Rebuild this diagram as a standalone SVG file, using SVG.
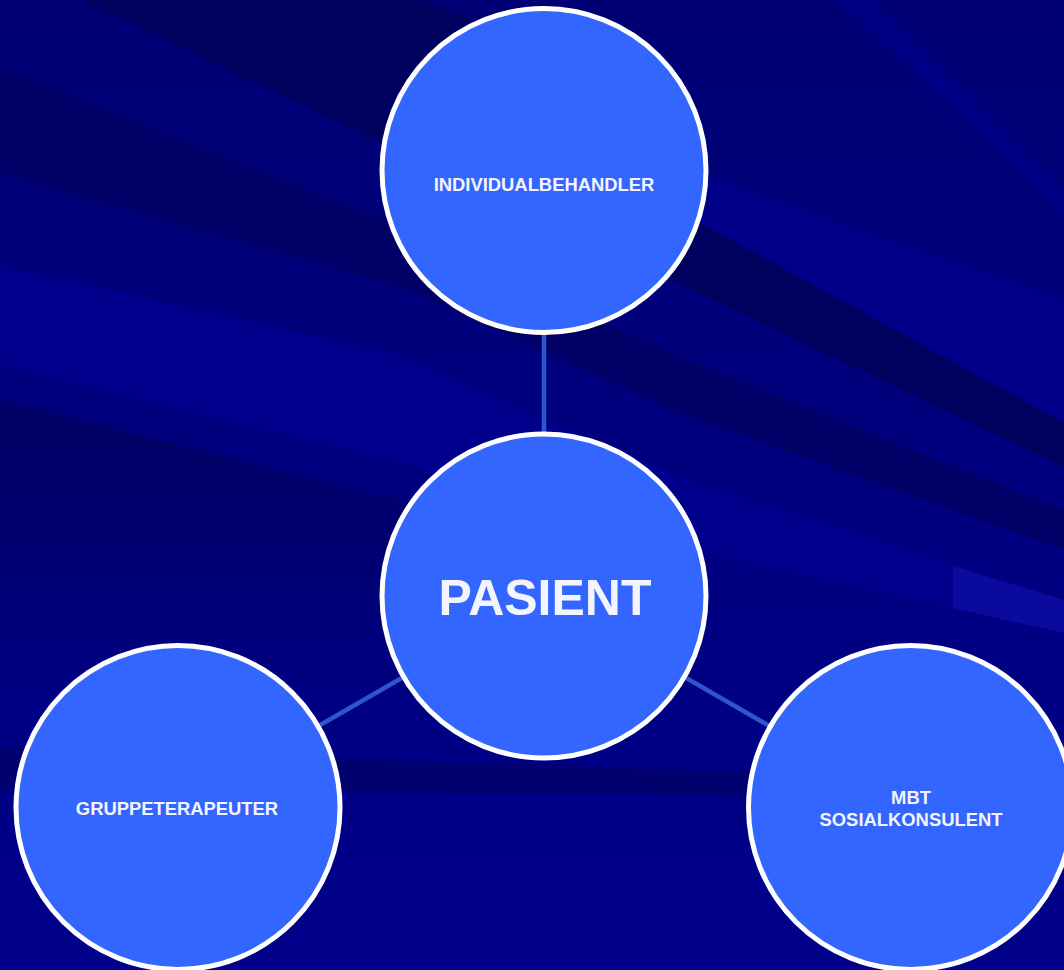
<svg xmlns="http://www.w3.org/2000/svg" width="1064" height="970" viewBox="0 0 1064 970">
  <defs>
    <linearGradient id="bg" x1="0" y1="0" x2="0" y2="970" gradientUnits="userSpaceOnUse">
      <stop offset="0" stop-color="#000074"/>
      <stop offset="0.5" stop-color="#00007f"/>
      <stop offset="1" stop-color="#00008a"/>
    </linearGradient>
    <linearGradient id="fadeC" x1="0" y1="430" x2="0" y2="690" gradientUnits="userSpaceOnUse">
      <stop offset="0" stop-color="#000066"/>
      <stop offset="1" stop-color="#000082"/>
    </linearGradient>
    <style>
      .node { fill: #3366ff; stroke: #ffffff; stroke-width: 5; }
      .conn { stroke: #2d55cc; stroke-width: 4.5; fill: none; }
      .lbl { font-family: "Liberation Sans", Arial, sans-serif; font-weight: bold; fill: #f4f4ff; text-anchor: middle; }
      .small { font-size: 18.4px; }
      .big { font-size: 50px; }
    </style>
  </defs>

  <g id="background">
    <rect x="0" y="0" width="1064" height="970" fill="url(#bg)"/>
    <polygon points="838,0 872,0 1064,190 1064,215" fill="#000084"/>
    <polygon points="700,173 1064,300 1064,423 840,300 700,223" fill="#000088"/>
    <polygon points="83,0 420,0 540,45 700,223 840,300 1064,423 1064,467 713,300" fill="#00005e"/>
    <polygon points="0,67 400,227 680,357 1064,510 1064,550 680,413 400,287 0,173" fill="#000066"/>
    <polygon points="0,265 400,355 680,477 1064,600 1064,633 680,547 400,463 0,365" fill="#00008c"/>
    <polygon points="953,566 1064,600 1064,633 953,608" fill="#0a0a9e"/>
    <polygon points="0,400 420,505 420,700 0,700" fill="url(#fadeC)"/>
    <polygon points="0,748 1064,782 1064,797 0,790" fill="#00006e"/>
  </g>

  <g id="connectors">
    <line class="conn" x1="544" y1="170" x2="544" y2="596"/>
    <line class="conn" x1="544" y1="596" x2="178" y2="807"/>
    <line class="conn" x1="544" y1="596" x2="910" y2="807"/>
  </g>

  <g id="node-individualbehandler">
    <circle class="node" cx="544" cy="170.5" r="162"/>
    <text class="lbl small" x="544" y="191">INDIVIDUALBEHANDLER</text>
  </g>

  <g id="node-pasient">
    <circle class="node" cx="544" cy="596" r="162"/>
    <text class="lbl big" x="545" y="615">PASIENT</text>
  </g>

  <g id="node-gruppeterapeuter">
    <circle class="node" cx="178" cy="807.5" r="162"/>
    <text class="lbl small" x="177" y="815">GRUPPETERAPEUTER</text>
  </g>

  <g id="node-mbt-sosialkonsulent">
    <circle class="node" cx="910.5" cy="807.5" r="162"/>
    <text class="lbl small" x="911" y="804">MBT</text>
    <text class="lbl small" x="911" y="826">SOSIALKONSULENT</text>
  </g>
</svg>
